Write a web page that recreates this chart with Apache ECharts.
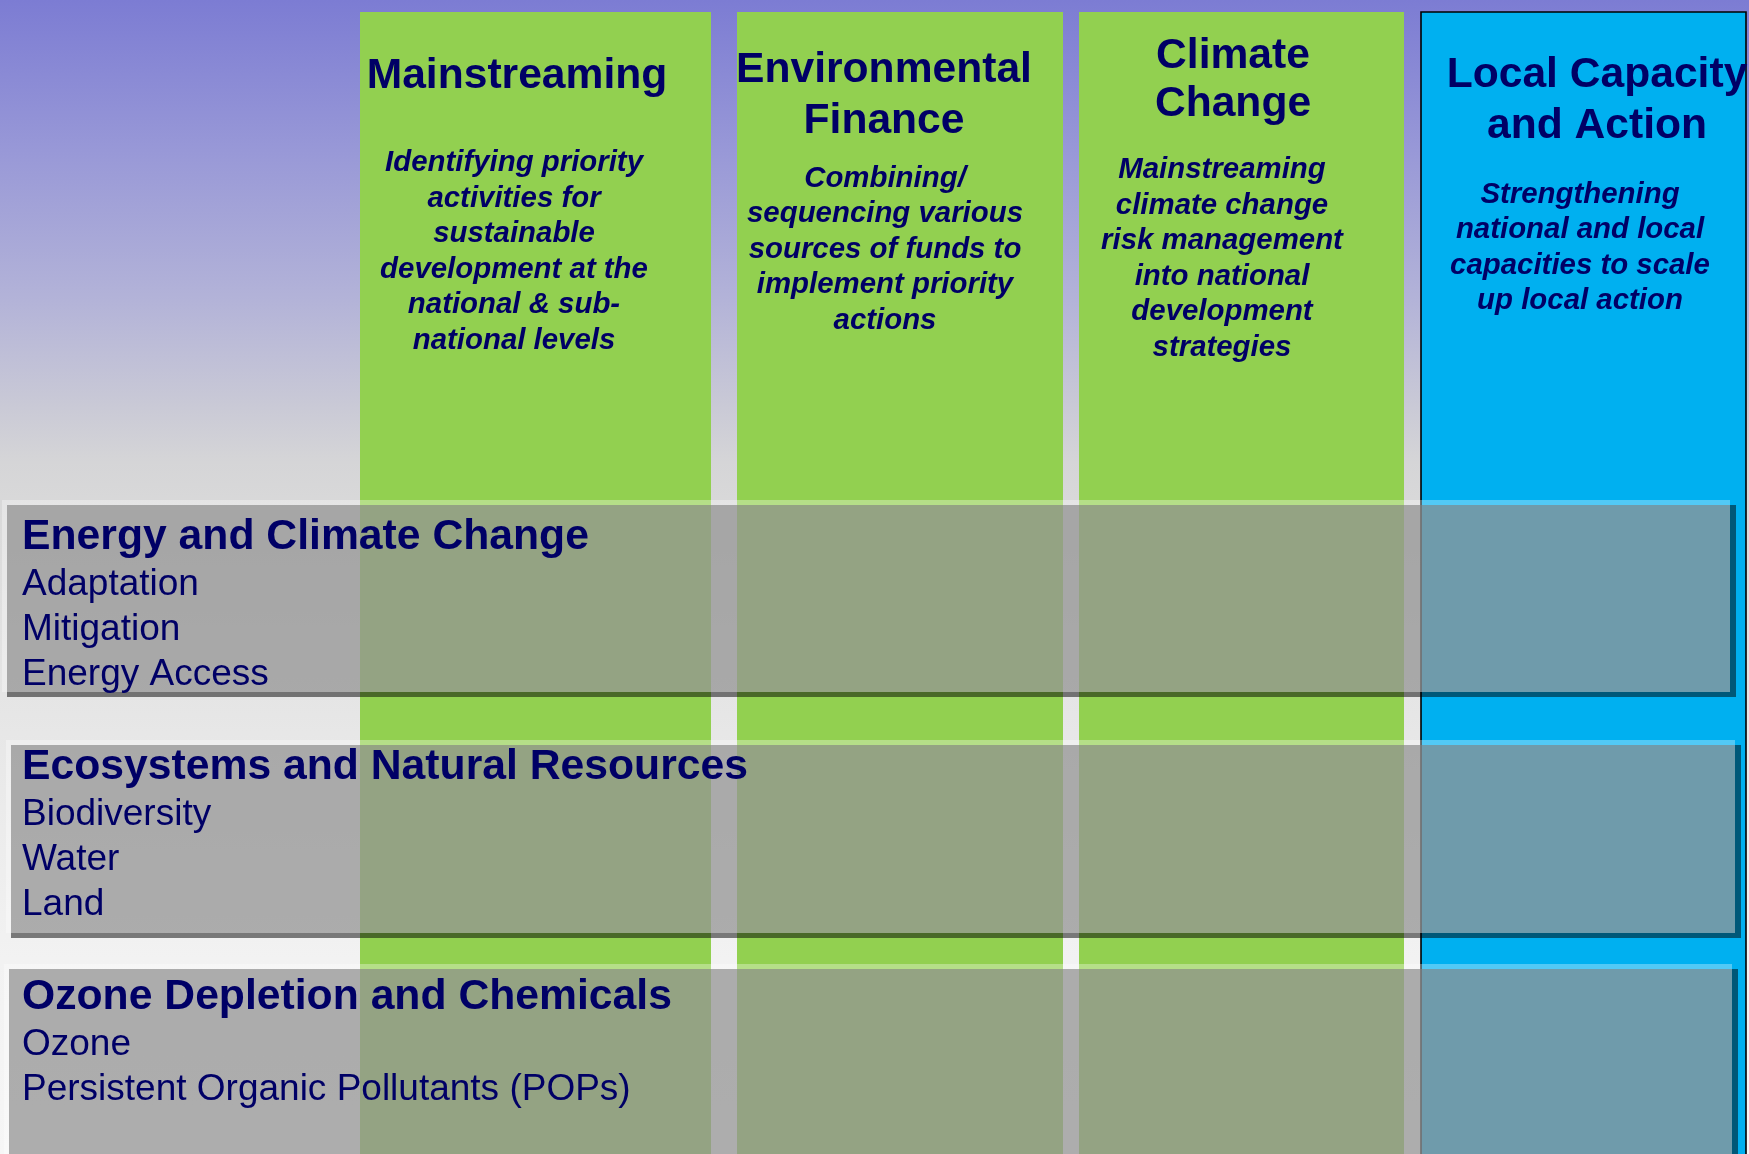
<!DOCTYPE html>
<html>
<head>
<meta charset="utf-8">
<style>
html,body{margin:0;padding:0;background:#f2f2f2;}
#chart{width:1749px;height:1154px;}
</style>
<script src="https://cdn.jsdelivr.net/npm/echarts@6/dist/echarts.min.js"></script>
</head>
<body>
<div id="chart"></div>
<script>
// ---- content ----
var columnTitles = ['Mainstreaming', 'Environmental\nFinance', 'Climate\nChange', 'Local Capacity\nand Action'];
var columnDescriptions = [
  'Identifying priority\nactivities for\nsustainable\ndevelopment at the\nnational & sub-\nnational levels',
  'Combining/\nsequencing various\nsources of funds to\nimplement priority\nactions',
  'Mainstreaming\nclimate change\nrisk management\ninto national\ndevelopment\nstrategies',
  'Strengthening\nnational and local\ncapacities to scale\nup local action'
];
var themeTitles = ['Energy and Climate Change', 'Ecosystems and Natural Resources', 'Ozone Depletion and Chemicals'];
var themeItems = [
  ['Adaptation', 'Mitigation', 'Energy Access'],
  ['Biodiversity', 'Water', 'Land'],
  ['Ozone', 'Persistent Organic Pollutants (POPs)']
];

// ---- layout (pixels) ----
var W = 1749, H = 1154;
var FONT = '"Liberation Sans", Arial, Helvetica, sans-serif';
var TEXT = '#000066';
var DY = 3.3;
var colRects = [[360, 711], [737, 1063], [1079, 1404], [1421, 1746]];
var colTop = 12;
var colFill = ['#92d050', '#92d050', '#92d050', '#00b0f0'];
var titlePos = [[517, 73, 51], [884, 92.5, 51], [1233, 77, 48], [1597, 97.5, 51]];
var descPos = [[514, 248.7], [885, 246.5], [1222, 255.5], [1580, 244.5]];
var bandRects = [[7, 505, 1730, 692], [11, 745, 1735, 933], [9, 969, 1732, 1175]];
var bandTitleY = [534, 763.5, 994];
var itemStartY = [581, 811, 1041];
var itemStep = 45;
var textX = 22;

var g = [];
function rect(x, y, w, h, fill, z, stroke, lw) {
  var el = { type: 'rect', z: z, silent: true, shape: { x: x, y: y, width: w, height: h }, style: { fill: fill } };
  if (stroke) { el.style.stroke = stroke; el.style.lineWidth = lw; }
  return el;
}
function text(str, x, y, font, align, lh, z) {
  return {
    type: 'text', z: z, silent: true, x: x, y: y + DY,
    style: {
      text: str, font: font, fill: TEXT,
      align: align, textAlign: align,
      verticalAlign: 'middle', textVerticalAlign: 'middle',
      lineHeight: lh
    }
  };
}

// background gradient
g.push({
  type: 'rect', z: 0, silent: true, shape: { x: 0, y: 0, width: W, height: H },
  style: {
    fill: new echarts.graphic.LinearGradient(0, 0, 0, 1, [
      { offset: 0, color: '#7c7cd3' },
      { offset: 0.13, color: '#9898d7' },
      { offset: 0.26, color: '#b3b3d8' },
      { offset: 0.35, color: '#c9c9d6' },
      { offset: 0.40, color: '#d5d5d7' },
      { offset: 0.45, color: '#dadada' },
      { offset: 0.57, color: '#e3e3e3' },
      { offset: 0.70, color: '#ebebeb' },
      { offset: 0.83, color: '#f2f2f2' },
      { offset: 1, color: '#f6f6f6' }
    ])
  }
});

// columns
colRects.forEach(function (c, i) {
  if (i === 3) {
    g.push(rect(c[0], colTop, c[1] - c[0], H - colTop + 20, colFill[i], 1, '#000000', 1.6));
  } else {
    g.push(rect(c[0], colTop, c[1] - c[0], H - colTop + 20, colFill[i], 1));
  }
  var t = titlePos[i];
  g.push(text(columnTitles[i], t[0], t[1], 'bold 42.6px ' + FONT, 'center', t[2], 10));
  var d = descPos[i];
  g.push(text(columnDescriptions[i], d[0], d[1], 'italic bold 29.4px ' + FONT, 'center', 35.5, 10));
});

// theme bands
bandRects.forEach(function (b, i) {
  var x0 = b[0], y0 = b[1], x1 = b[2], y1 = b[3];
  // light edge (top / left)
  g.push(rect(x0 - 5, y0 - 5, x1 - x0 + 5, 5, 'rgba(255,255,255,0.32)', 3));
  g.push(rect(x0 - 5, y0, 5, y1 - y0, 'rgba(255,255,255,0.32)', 3));
  // shadow (right / bottom)
  g.push(rect(x1, y0, 6, y1 - y0 + 5, 'rgba(0,0,0,0.5)', 3));
  g.push(rect(x0, y1, x1 - x0, 5, 'rgba(0,0,0,0.5)', 3));
  // fill
  g.push(rect(x0, y0, x1 - x0, y1 - y0, 'rgba(148,148,148,0.75)', 3));
  // text
  g.push(text(themeTitles[i], textX, bandTitleY[i], 'bold 42.7px ' + FONT, 'left', 50, 10));
  themeItems[i].forEach(function (it, k) {
    g.push(text(it, textX, itemStartY[i] + k * itemStep, '37px ' + FONT, 'left', 45, 10));
  });
});

var chart = echarts.init(document.getElementById('chart'), null, { renderer: 'canvas' });
chart.setOption({
  animation: false,
  backgroundColor: '#f2f2f2',
  graphic: { elements: g }
});
</script>
</body>
</html>
